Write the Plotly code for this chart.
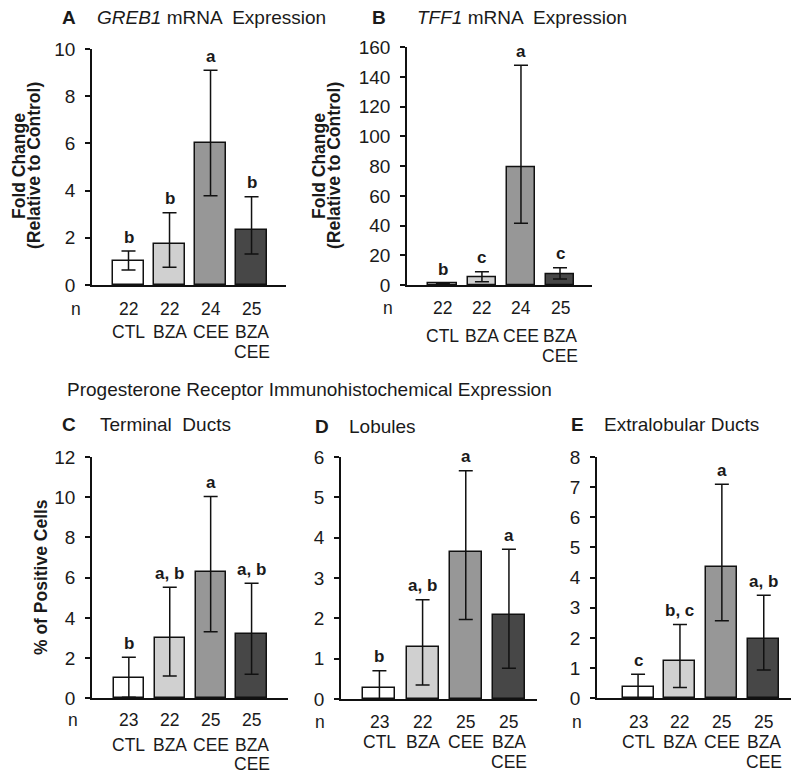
import plotly.graph_objects as go

W, H = 792, 775

categories_line1 = ["CTL", "BZA", "CEE", "BZA"]
categories_line2 = ["", "", "", "CEE"]
bar_colors = ["#ffffff", "#d0d0d0", "#979797", "#474747"]

# A: GREB1 mRNA
greb1_mean = [1.02, 1.74, 6.0, 2.33]
greb1_plus = [0.42, 1.32, 3.1, 1.41]
greb1_minus = [0.38, 0.99, 2.22, 1.02]
greb1_n = [22, 22, 24, 25]
greb1_sig = ["b", "b", "a", "b"]

# B: TFF1 mRNA
tff1_mean = [1.0, 5.2, 79, 7.2]
tff1_plus = [0.3, 3.8, 69, 4.4]
tff1_minus = [0.3, 3.0, 37.5, 3.2]
tff1_n = [22, 22, 24, 25]
tff1_sig = ["b", "c", "a", "c"]

# C: Terminal Ducts
td_mean = [0.99, 3.01, 6.27, 3.2]
td_plus = [1.05, 2.51, 3.76, 2.52]
td_minus = [0.94, 1.9, 2.96, 2.01]
td_n = [23, 22, 25, 25]
td_sig = ["b", "a, b", "a", "a, b"]

# D: Lobules
lob_mean = [0.28, 1.30, 3.64, 2.09]
lob_plus = [0.42, 1.16, 2.02, 1.62]
lob_minus = [0.28, 0.95, 1.67, 1.33]
lob_n = [23, 22, 25, 25]
lob_sig = ["b", "a, b", "a", "a"]

# E: Extralobular Ducts
ext_mean = [0.36, 1.24, 4.36, 1.97]
ext_plus = [0.44, 1.21, 2.74, 1.45]
ext_minus = [0.36, 0.88, 1.79, 1.03]
ext_n = [23, 22, 25, 25]
ext_sig = ["c", "b, c", "a", "a, b"]

FONT = "Arial, Liberation Sans, sans-serif"
TXT = "#1a1a1a"

panels = [
    dict(mean=greb1_mean, plus=greb1_plus, minus=greb1_minus, n=greb1_n, sig=greb1_sig,
         px=(92, 286), py=(49, 285), ymax=10, dtick=2, xr=(-0.89, 3.84),
         n_y=309, cat_y=332, cat2_y=352, n_x=76, letter="A", letter_x=68.5,
         title="<i>GREB1</i> mRNA  Expression", title_x=95, title_y=17),
    dict(mean=tff1_mean, plus=tff1_plus, minus=tff1_minus, n=tff1_n, sig=tff1_sig,
         px=(407, 592), py=(47.3, 285), ymax=160, dtick=20, xr=(-0.92, 3.82),
         n_y=308, cat_y=336, cat2_y=356, n_x=388, letter="B", letter_x=379,
         title="<i>TFF1</i> mRNA  Expression", title_x=415, title_y=17),
    dict(mean=td_mean, plus=td_plus, minus=td_minus, n=td_n, sig=td_sig,
         px=(92, 288), py=(457, 698.3), ymax=12, dtick=2, xr=(-0.90, 3.89),
         n_y=720, cat_y=745, cat2_y=764, n_x=73, letter="C", letter_x=68.5,
         title="Terminal  Ducts", title_x=98, title_y=424),
    dict(mean=lob_mean, plus=lob_plus, minus=lob_minus, n=lob_n, sig=lob_sig,
         px=(341, 537), py=(457, 699), ymax=6, dtick=1, xr=(-0.89, 3.65),
         n_y=722, cat_y=742, cat2_y=762, n_x=320, letter="D", letter_x=322,
         title="Lobules", title_x=347, title_y=426),
    dict(mean=ext_mean, plus=ext_plus, minus=ext_minus, n=ext_n, sig=ext_sig,
         px=(597, 791), py=(457, 698.3), ymax=8, dtick=1, xr=(-0.98, 3.65),
         n_y=722, cat_y=742, cat2_y=762, n_x=577, letter="E", letter_x=577,
         title="Extralobular Ducts", title_x=602, title_y=425),
]

fig = go.Figure()
annotations = []
layout = {}

def py2paper(p):
    return 1 - p / H

for i, p in enumerate(panels):
    k = "" if i == 0 else str(i + 1)
    xa, ya = "x" + k, "y" + k
    fig.add_trace(go.Bar(
        x=list(range(len(categories_line1))), y=p["mean"], xaxis=xa, yaxis=ya,
        width=0.74,
        marker=dict(color=bar_colors, line=dict(color="#111111", width=1.5)),
        error_y=dict(type="data", array=p["plus"], arrayminus=p["minus"],
                     color="#111111", thickness=1.5, width=7, visible=True),
        showlegend=False, hoverinfo="skip",
    ))
    layout["xaxis" + k] = dict(
        domain=[p["px"][0] / W, p["px"][1] / W], anchor=ya, range=list(p["xr"]),
        showline=True, linecolor="#111111", linewidth=1.5, ticks="",
        showticklabels=False, showgrid=False, zeroline=False, fixedrange=True,
        automargin=False,
    )
    layout["yaxis" + k] = dict(
        domain=[py2paper(p["py"][1]), py2paper(p["py"][0])], anchor=xa,
        range=[0, p["ymax"]], dtick=p["dtick"], tick0=0,
        showline=True, linecolor="#111111", linewidth=1.5,
        ticks="outside", ticklen=5, tickwidth=1.5, tickcolor="#111111",
        tickfont=dict(family=FONT, size=19, color=TXT), ticklabelstandoff=6,
        showgrid=False, zeroline=False, fixedrange=True, automargin=False,
    )
    for j in range(len(categories_line1)):
        annotations.append(dict(
            x=j, y=p["mean"][j] + p["plus"][j], xref=xa, yref=ya,
            text="<b>%s</b>" % p["sig"][j], showarrow=False,
            yanchor="middle", yshift=14,
            font=dict(family=FONT, size=17, color=TXT),
        ))
        annotations.append(dict(
            x=j, y=py2paper(p["n_y"]), xref=xa, yref="paper",
            text=str(p["n"][j]), showarrow=False, yanchor="middle",
            font=dict(family=FONT, size=17.5, color=TXT),
        ))
        annotations.append(dict(
            x=j, y=py2paper(p["cat_y"]), xref=xa, yref="paper",
            text=categories_line1[j], showarrow=False, yanchor="middle",
            font=dict(family=FONT, size=17.5, color=TXT),
        ))
        if categories_line2[j]:
            annotations.append(dict(
                x=j, y=py2paper(p["cat2_y"]), xref=xa, yref="paper",
                text=categories_line2[j], showarrow=False, yanchor="middle",
                font=dict(family=FONT, size=17.5, color=TXT),
            ))
    annotations.append(dict(
        x=p["n_x"] / W, y=py2paper(p["n_y"]), xref="paper", yref="paper",
        text="n", showarrow=False, xanchor="center", yanchor="middle",
        font=dict(family=FONT, size=17.5, color=TXT),
    ))
    annotations.append(dict(
        x=p["letter_x"] / W, y=py2paper(p["title_y"]), xref="paper", yref="paper",
        text="<b>%s</b>" % p["letter"], showarrow=False, xanchor="center", yanchor="middle",
        font=dict(family=FONT, size=19, color=TXT),
    ))
    annotations.append(dict(
        x=p["title_x"] / W, y=py2paper(p["title_y"]), xref="paper", yref="paper",
        text=p["title"], showarrow=False, xanchor="left", yanchor="middle",
        font=dict(family=FONT, size=19, color=TXT),
    ))

# y-axis titles
for (x1, x2, yc) in [(19, 34, 166), (319, 334, 166)]:
    annotations.append(dict(x=x1 / W, y=py2paper(yc), xref="paper", yref="paper",
                            text="<b>Fold Change</b>", textangle=-90, showarrow=False,
                            xanchor="center", yanchor="middle",
                            font=dict(family=FONT, size=17.5, color=TXT)))
    annotations.append(dict(x=x2 / W, y=py2paper(yc), xref="paper", yref="paper",
                            text="<b>(Relative to Control)</b>", textangle=-90, showarrow=False,
                            xanchor="center", yanchor="middle",
                            font=dict(family=FONT, size=17.5, color=TXT)))
annotations.append(dict(x=41 / W, y=py2paper(577), xref="paper", yref="paper",
                        text="<b>% of Positive Cells</b>", textangle=-90, showarrow=False,
                        xanchor="center", yanchor="middle",
                        font=dict(family=FONT, size=17.5, color=TXT)))

annotations.append(dict(x=65 / W, y=py2paper(390), xref="paper", yref="paper",
                        text="Progesterone Receptor Immunohistochemical Expression",
                        showarrow=False, xanchor="left", yanchor="middle",
                        font=dict(family=FONT, size=19, color=TXT)))

fig.update_layout(
    template="none",
    width=W, height=H, margin=dict(l=0, r=0, t=0, b=0, pad=0, autoexpand=False),
    paper_bgcolor="white", plot_bgcolor="white",
    annotations=annotations, bargap=0, **layout,
)

fig.write_html("out.html", config={"displayModeBar": False},
               post_script="document.body.style.margin='0';document.body.style.overflow='hidden';")
